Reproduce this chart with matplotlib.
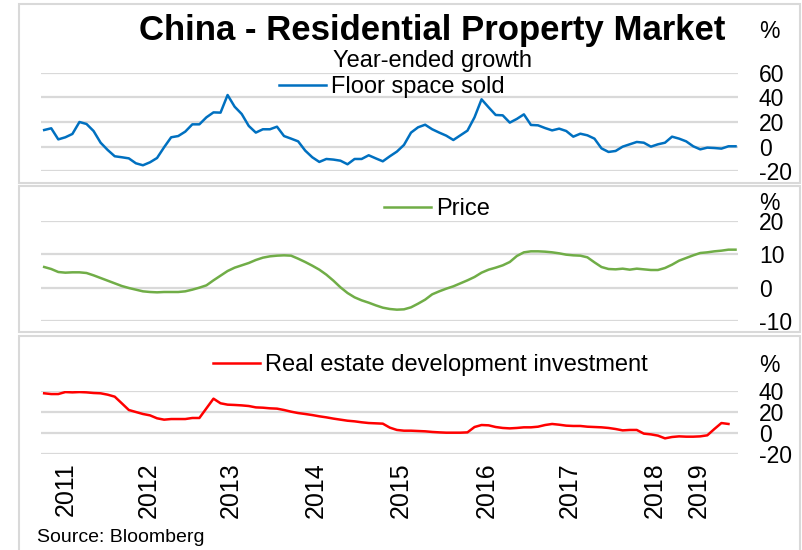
import numpy as np
import matplotlib
matplotlib.use("Agg")
import matplotlib.pyplot as plt
from matplotlib.patches import Rectangle

plt.rcParams['font.family'] = ['Liberation Sans', 'DejaVu Sans']
plt.rcParams['axes.unicode_minus'] = False

# Monthly series, year-ended growth (%)
floor_space = [13.5, 14.9, 5.9, 7.6, 10.3, 20, 18.4, 12.7, 3.2, -2.7,
               -7.8, -8.6, -9.5, -13.5, -15.1, -12.7, -9.2, -0.5, 7.6, 8.6,
               12.2, 18.1, 18.1, 23.8, 27.8, 27.6, 41.9, 32.4, 26.5, 16.8,
               11.4, 14.1, 14.1, 16.2, 8.6, 6.5, 4.3, -3.2, -8.6, -12.4,
               -10, -10.5, -11.4, -14.3, -10, -10, -7, -9.5, -11.9, -7.8,
               -4, 1.4, 11.4, 15.7, 17.8, 14.1, 11.4, 8.9, 5.4, 9.2,
               13, 23.8, 38.4, 31.9, 25.7, 25.4, 19.5, 22.5, 26.2, 17.6,
               17.3, 15.1, 13.2, 14.6, 12.7, 8.1, 10.5, 9.2, 6.5, -1.4,
               -4.3, -3.5, 0, 1.9, 3.8, 3.2, 0, 1.9, 3.2, 8.1,
               6.5, 4.3, 0.3, -2.2, -0.8, -1.1, -1.6, 0.3, 0.3]

price = [6.2, 5.6, 4.7, 4.5, 4.6, 4.6, 4.4, 3.7, 2.9, 2.1,
         1.3, 0.5, -0.1, -0.6, -1.1, -1.3, -1.4, -1.3, -1.3, -1.3,
         -1.1, -0.6, 0, 0.7, 2.2, 3.6, 5, 6, 6.7, 7.4,
         8.3, 9, 9.4, 9.6, 9.7, 9.6, 8.7, 7.7, 6.6, 5.4,
         3.9, 2.1, 0.1, -1.6, -2.9, -3.8, -4.5, -5.3, -6.0, -6.4,
         -6.6, -6.5, -5.9, -4.8, -3.6, -2.0, -1.1, -0.3, 0.4, 1.3,
         2.2, 3.2, 4.5, 5.4, 6, 6.7, 7.7, 9.5, 10.6, 10.9,
         10.9, 10.8, 10.6, 10.3, 9.9, 9.7, 9.6, 9.1, 7.6, 6.2,
         5.6, 5.5, 5.7, 5.4, 5.7, 5.5, 5.3, 5.3, 5.9, 6.9,
         8.1, 8.9, 9.7, 10.4, 10.6, 10.9, 11.1, 11.4, 11.4]

investment = [37.8, 37.1, 37.1, 39, 38.7, 39, 38.7, 38.1, 37.8, 36.5,
              34.6, 28.3, 21.9, 20, 18.1, 16.8, 14, 12.7, 13.3, 13.3,
              13.3, 14.3, 14.3, 23.5, 32.7, 28.3, 27, 26.7, 26.3, 25.7,
              24.4, 24.1, 23.5, 23.2, 21.9, 20.3, 19, 18.1, 17.1, 15.9,
              14.9, 13.7, 12.7, 11.7, 11.1, 10.2, 9.5, 9.2, 8.9, 5.1,
              2.9, 2.2, 2.2, 1.9, 1.6, 1.0, 0.6, 0.3, 0.3, 0.3,
              0.6, 5.7, 7.6, 7.3, 5.7, 4.8, 4.4, 4.8, 5.4, 5.4,
              6, 7.6, 8.6, 7.9, 7, 6.7, 6.7, 6, 5.7, 5.4,
              4.8, 3.8, 2.5, 2.9, 2.9, -0.6, -1.3, -2.5, -5.1, -3.8,
              -3.2, -3.5, -3.5, -3.2, -2.2, 3.8, 9.5, 8.6]

year_ticks = [3.1, 14.8, 26.5, 38.5, 50.6, 62.7, 74.5, 86.5, 92.8]
year_labels = ['2011', '2012', '2013', '2014', '2015', '2016', '2017', '2018', '2019']

W, H = 802, 550
fig = plt.figure(figsize=(W / 100, H / 100), dpi=100)

def fx(px):
    return px / W

def fy(py):
    return 1 - py / H

grid_col = '#d9d9d9'
fs_tick = 16.5

# panel frames
for top, bot in [(4, 183), (186, 332), (336, 560)]:
    fig.add_artist(Rectangle((fx(19), fy(bot)), fx(800) - fx(19), fy(top) - fy(bot),
                             transform=fig.transFigure, fill=False,
                             edgecolor=grid_col, lw=1.5))

panels = [
    (floor_space, '#0070c0', 'Floor space sold', (-20, 60), [-20, 0, 20, 40, 60], 72.7, 171.3),
    (price, '#70ad47', 'Price', (-10, 20), [-10, 0, 10, 20], 221, 321),
    (investment, '#ff0000', 'Real estate development investment', (-20, 40), [-20, 0, 20, 40], 391, 454),
]

axes = []
for vals, col, name, ylim, yt, ptop, pbot in panels:
    ax = fig.add_axes([fx(41), fy(pbot), fx(738) - fx(41), fy(ptop) - fy(pbot)])
    x = np.arange(len(vals))
    for t in yt:
        ax.axhline(t, color=grid_col, lw=1.6, zorder=1)
    line, = ax.plot(x, vals, color=col, lw=1.8, zorder=3, label=name)
    ax.set_xlim(-0.45, 98.35)
    ax.set_ylim(*ylim)
    ax.set_yticks(yt)
    ax.yaxis.tick_right()
    ax.tick_params(axis='y', length=0, pad=15, labelsize=fs_tick)
    for lab in ax.get_yticklabels():
        lab.set_horizontalalignment('left')
    ax.set_xticks([])
    for s in ax.spines.values():
        s.set_visible(False)
    ax.patch.set_alpha(0)
    axes.append((ax, line))

ax3 = axes[2][0]
ax3.set_xticks(year_ticks)
ax3.set_xticklabels(year_labels, rotation=90, fontsize=18)
ax3.tick_params(axis='x', length=0, pad=6)

# legends
fs_leg = 17
for (ax, line), (lx, ly) in zip(axes, [(279, 87), (384, 209), (213, 365)]):
    fig.legend(handles=[line], loc='center left', bbox_to_anchor=(fx(lx), fy(ly)),
               frameon=False, fontsize=fs_leg, borderpad=0, borderaxespad=0,
               handlelength=47 / (fs_leg / 0.72), handletextpad=0.22)

fig.text(fx(432), fy(40), 'China - Residential Property Market', ha='center',
         va='baseline', fontsize=25, fontweight='bold')
fig.text(fx(433), fy(61), 'Year-ended growth', ha='center', va='center', fontsize=fs_leg)
for py in [31, 203, 365]:
    fig.text(fx(759), fy(py), '%', ha='left', va='center', fontsize=fs_tick)
fig.text(fx(37), fy(538), 'Source: Bloomberg', ha='left', va='center', fontsize=14)

fig.savefig('out.png', dpi=100)
